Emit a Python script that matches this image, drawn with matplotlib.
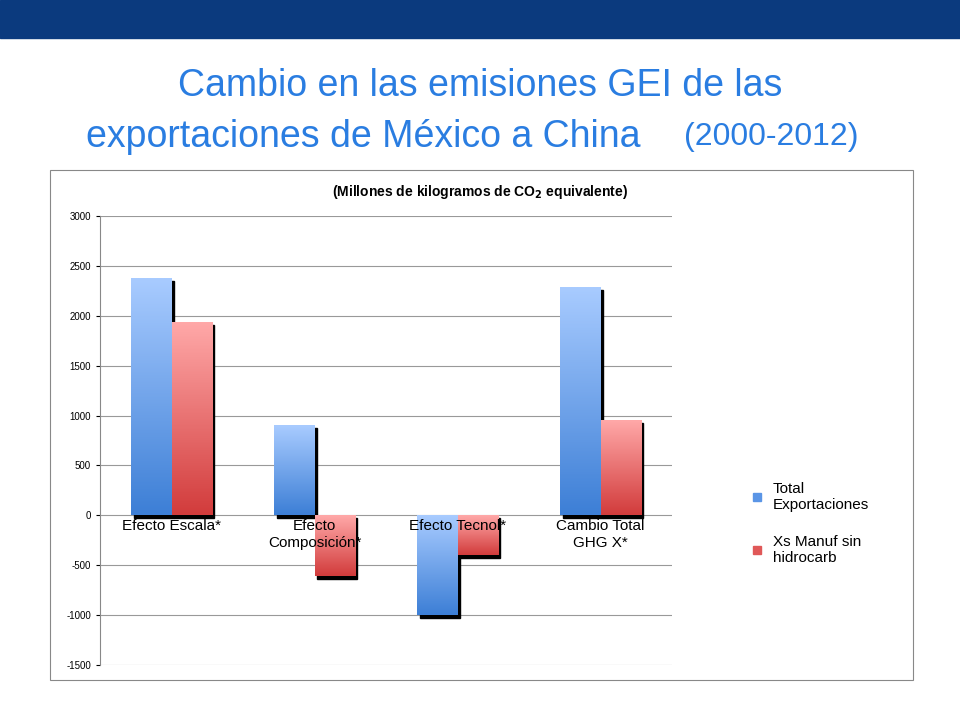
import numpy as np
import matplotlib
matplotlib.use("Agg")
import matplotlib.pyplot as plt
from matplotlib.patches import Rectangle, Patch
from matplotlib.colors import LinearSegmentedColormap

categories = ["Efecto Escala*", "Efecto\nComposición*", "Efecto Tecnol*", "Cambio Total\nGHG X*"]
total_export = [2370, 900, -1000, 2280]
manuf_sin_hc = [1930, -610, -400, 950]
series_names = ["Total\nExportaciones", "Xs Manuf sin\nhidrocarb"]
yticks = list(range(-1500, 3001, 500))

fig = plt.figure(figsize=(9.6, 7.2), dpi=100)
fig.patches.append(Rectangle((0, 1 - 38/720), 1, 38/720, transform=fig.transFigure, color="#0b3a7e"))
fig.patches.append(Rectangle((50/960, 40/720), 863/960, 510/720, transform=fig.transFigure,
                             fill=False, ec="#888888", lw=0.8))
fig.text(0.5, 0.88, "Cambio en las emisiones GEI de las", ha="center", va="center",
         fontsize=27, color="#2a7de1", family="Liberation Sans")
fig.text(0.5, 0.81, "exportaciones de México a China $\\mathregular{^{}}$", ha="right", va="center",
         fontsize=27, color="#2a7de1", family="Liberation Sans", alpha=0)
fig.text(0.09, 0.81, "exportaciones de México a China", ha="left", va="center",
         fontsize=27, color="#2a7de1", family="Liberation Sans")
fig.text(0.713, 0.81, "(2000-2012)", ha="left", va="center",
         fontsize=23, color="#2a7de1", family="Liberation Sans")
fig.text(0.5, 0.733, r"(Millones de kilogramos de CO$_\mathbf{2}$ equivalente)", ha="center",
         va="center", fontsize=10, fontweight="bold", family="Liberation Sans")

ax = fig.add_axes([100/960, 55/720, 572/960, 449/720])
ax.set_xlim(0, 4)
ax.set_ylim(-1500, 3000)
ax.set_yticks(yticks)
ax.set_yticklabels([str(v) for v in yticks], fontsize=7, family="Liberation Sans")
ax.set_xticks([])
for v in yticks:
    ax.axhline(v, color="#999999", lw=0.8, zorder=0)
for s in ["top", "right", "bottom"]:
    ax.spines[s].set_visible(False)
ax.spines["left"].set_color("#888888")
ax.tick_params(axis="y", length=3, colors="black")

cmap_b = LinearSegmentedColormap.from_list("b", ["#3d7fd6", "#a8cbff"])
cmap_r = LinearSegmentedColormap.from_list("r", ["#d23c3c", "#ffa8a8"])
grad = np.linspace(0, 1, 100).reshape(-1, 1)
w = 0.28
for i in range(4):
    c = 0.5 + i
    for vals, cm, x0 in [(total_export, cmap_b, c - w), (manuf_sin_hc, cmap_r, c)]:
        v = vals[i]
        y0, y1 = min(0, v), max(0, v)
        ax.add_patch(Rectangle((x0 + 0.02, y0 - 25), w, y1 - y0, color="black", zorder=2))
        ax.imshow(grad, cmap=cm, extent=[x0, x0 + w, y0, y1], aspect="auto",
                  origin="lower", zorder=3)
    ax.text(c, -40, categories[i], ha="center", va="top", fontsize=11,
            family="Liberation Sans", zorder=5)
ax.set_xlim(0, 4)
ax.set_ylim(-1500, 3000)

handles = [Patch(color="#5a95e6"), Patch(color="#e05858")]
fig.legend(handles, series_names, loc="upper left", bbox_to_anchor=(0.77, 0.35),
           frameon=False, fontsize=11, handlelength=0.5, handleheight=0.5,
           labelspacing=1.5, prop={"family": "Liberation Sans", "size": 11})
fig.savefig("out.png", dpi=100)
